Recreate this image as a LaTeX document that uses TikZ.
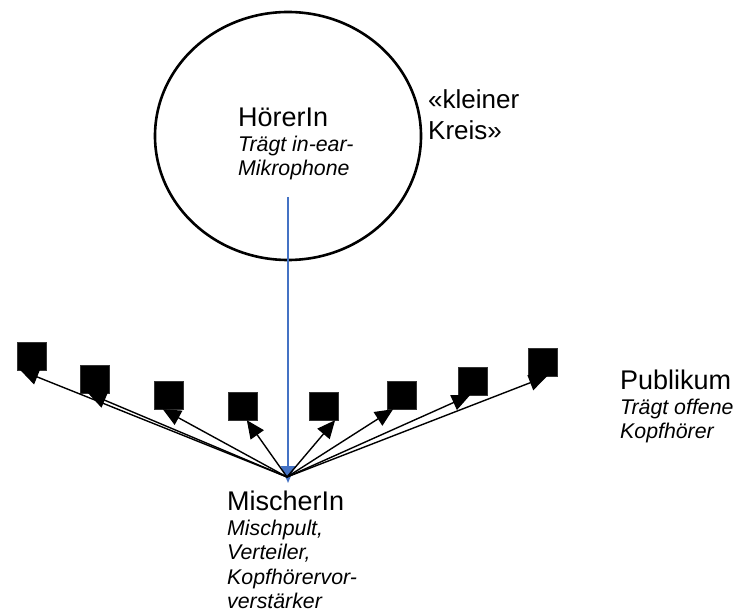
\documentclass[tikz,border=0pt]{standalone}
\usepackage{fontspec}
\setmainfont{Liberation Sans}
\usetikzlibrary{positioning,arrows.meta,shapes.geometric}
\definecolor{mixBlue}{RGB}{68,114,196}
\newcommand{\lblhead}[1]{{\fontsize{27}{30}\selectfont #1}}

\begin{document}
\begin{tikzpicture}[x=1pt,y=-1pt,
  lbl/.style={align=left, inner sep=0pt, anchor=north west, font=\fontsize{21.3}{24.5}\selectfont},
  seat/.style={rectangle, fill=black, draw=black!80, minimum width=29pt, minimum height=28pt, inner sep=0pt},
  feed/.style={-{Triangle[length=18pt,width=16pt]}, line width=1.4pt}]
  \useasboundingbox (0,0) rectangle (735,612);

  % small circle with the listener
  \node[ellipse, draw, line width=2.6pt, minimum width=266pt, minimum height=248pt] (kreis) at (288,136) {};
  \node[lbl] (hoerer) at (238,108) {\lblhead{HörerIn}\\\textit{Trägt in-ear-}\\\textit{Mikrophone}};
  \node[lbl, font=\fontsize{26}{31.5}\selectfont] (kreisname) at (428,89) {«kleiner\\Kreis»};

  % mixer
  \coordinate (mic) at (288,197);
  \coordinate (mixin) at (288,483);
  \coordinate (hub) at (287,477);
  \node[lbl] (mischer) at (227,491) {\lblhead{MischerIn}\\\textit{Mischpult,}\\\textit{Verteiler,}\\\textit{Kopfhörervor-}\\\textit{verstärker}};
  \draw[mixBlue, line width=2pt, -{Triangle[length=17pt,width=14pt]}] (mic) -- (mixin);

  % audience seats
  \foreach \name/\x/\y in {sq1/31.5/356, sq2/95/379, sq3/168.5/395, sq4/242.5/406,
                           sq5/324/406, sq6/402/395, sq7/473/381, sq8/543/362} {
    \node[seat] (\name) at (\x,\y) {};
  }
  \foreach \name/\ang in {sq1/-128, sq2/-116, sq3/-112, sq4/-73,
                          sq5/-52, sq6/-122, sq7/-102, sq8/-74} {
    \draw[feed] (hub) -- (\name.\ang);
  }
  \node[lbl] (publikum) at (620,370) {\lblhead{Publikum}\\\textit{Trägt offene}\\\textit{Kopfhörer}};
\end{tikzpicture}
\end{document}
